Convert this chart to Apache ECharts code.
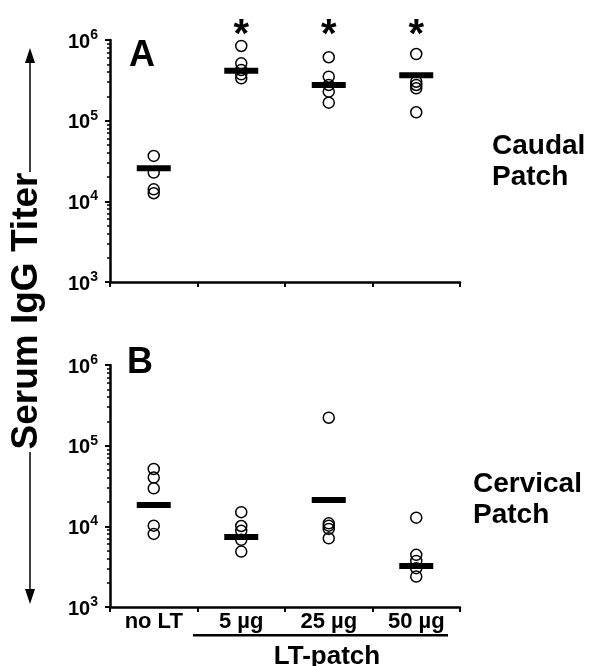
<!DOCTYPE html>
<html>
<head>
<meta charset="utf-8">
<script src="https://cdn.jsdelivr.net/npm/echarts@6/dist/echarts.min.js"></script>
<style>
  html, body { margin: 0; padding: 0; background: #fff; }
  #chart { width: 589px; height: 666px; }
</style>
</head>
<body>
<div id="chart"></div>
<script>
// groups on the x axis
const categories = ['no LT', '5 µg', '25 µg', '50 µg']

// panel A - caudal patch, individual titers per group
const caudalNoLT = [36600, 22700, 14100, 12600]
const caudal5 = [843000, 514000, 425000, 376000, 335000]
const caudal25 = [611000, 351000, 277000, 229000, 167000]
const caudal50 = [670000, 304000, 277000, 252000, 127000]
const caudalMeans = [25700, 417000, 277000, 366000]

// panel B - cervical patch
const cervicalNoLT = [51400, 40200, 29600, 10200, 8050]
const cervical5 = [15000, 10100, 8800, 6800, 4860]
const cervical25 = [222000, 10900, 10200, 9300, 7100]
const cervical50 = [12800, 4430, 3720, 3030, 2380]
const cervicalMeans = [18400, 7400, 21200, 3230]

// significance stars (panel A)
const starGroups = ['5 µg', '25 µg', '50 µg']
const starLevel = 1130000

const FONT = 'Liberation Sans, Arial, sans-serif'

function toPoints(groups) {
    const out = []
    groups.forEach((vals, i) => vals.forEach(v => out.push([categories[i], v])))
    return out
}

function xAxisFor(grid, showLabels) {
    return {
        type: 'category', gridIndex: grid, data: categories, boundaryGap: true,
        axisLine: { lineStyle: { color: '#000', width: 2.5 } },
        axisTick: { show: true, length: 5, lineStyle: { color: '#000', width: 2 } },
        axisLabel: { show: showLabels, color: '#000', fontFamily: FONT, fontWeight: 'bold', fontSize: 22, margin: 4 },
        splitLine: { show: false }
    }
}

function yAxisFor(grid) {
    return {
        type: 'log', logBase: 10, gridIndex: grid, min: 1000, max: 1000000,
        axisLine: { show: true, lineStyle: { color: '#000', width: 2.5 } },
        axisTick: { show: true, length: 5, lineStyle: { color: '#000', width: 2 } },
        minorTick: { show: true, splitNumber: 9, length: 3, lineStyle: { color: '#000', width: 1.5 } },
        splitLine: { show: false },
        axisLabel: {
            margin: 12, color: '#000',
            formatter: v => '{b|10}{s|' + Math.round(Math.log10(v)) + '}',
            rich: {
                b: { fontFamily: FONT, fontWeight: 'bold', fontSize: 20, color: '#000', verticalAlign: 'bottom', lineHeight: 24 },
                s: { fontFamily: FONT, fontWeight: 'bold', fontSize: 14, color: '#000', verticalAlign: 'top', lineHeight: 24 }
            }
        }
    }
}

function circles(grid, groups) {
    return {
        type: 'scatter', xAxisIndex: grid, yAxisIndex: grid,
        data: toPoints(groups), symbol: 'circle', symbolSize: 11,
        itemStyle: { color: 'rgba(0,0,0,0)', borderColor: '#000', borderWidth: 1.5, opacity: 1 },
        clip: false, silent: true
    }
}

function means(grid, vals) {
    return {
        type: 'scatter', xAxisIndex: grid, yAxisIndex: grid,
        data: vals.map((v, i) => [categories[i], v]), symbol: 'rect', symbolSize: [34, 6],
        itemStyle: { color: '#000', opacity: 1 }, clip: false, silent: true
    }
}

const chart = echarts.init(document.getElementById('chart'))
chart.setOption({
    animation: false,
    backgroundColor: '#fff',
    grid: [
        { left: 110, top: 40, width: 350, height: 242 },
        { left: 110, top: 365, width: 350, height: 242 }
    ],
    xAxis: [xAxisFor(0, false), xAxisFor(1, true)],
    yAxis: [yAxisFor(0), yAxisFor(1)],
    series: [
        circles(0, [caudalNoLT, caudal5, caudal25, caudal50]),
        means(0, caudalMeans),
        {
            type: 'scatter', xAxisIndex: 0, yAxisIndex: 0, clip: false, silent: true,
            data: starGroups.map(g => [g, starLevel]), symbolSize: 1,
            itemStyle: { color: 'rgba(0,0,0,0)', opacity: 1 },
            label: { show: true, position: 'inside', formatter: '*', color: '#000', fontFamily: FONT, fontWeight: 'bold', fontSize: 40 }
        },
        circles(1, [cervicalNoLT, cervical5, cervical25, cervical50]),
        means(1, cervicalMeans)
    ],
    graphic: [
        { type: 'text', x: 27, y: 311, rotation: Math.PI / 2,
          style: { text: 'Serum IgG Titer', font: 'bold 37px ' + FONT, fill: '#000', align: 'center', verticalAlign: 'middle' } },
        { type: 'line', shape: { x1: 30, y1: 60, x2: 30, y2: 172 }, style: { stroke: '#000', lineWidth: 1.5 } },
        { type: 'polygon', shape: { points: [[30, 48], [25, 63], [35, 63]] }, style: { fill: '#000' } },
        { type: 'line', shape: { x1: 30, y1: 452, x2: 30, y2: 592 }, style: { stroke: '#000', lineWidth: 1.5 } },
        { type: 'polygon', shape: { points: [[30, 604], [25, 589], [35, 589]] }, style: { fill: '#000' } },
        { type: 'text', x: 129, y: 38, style: { text: 'A', font: 'bold 36px ' + FONT, fill: '#000' } },
        { type: 'text', x: 127, y: 345, style: { text: 'B', font: 'bold 36px ' + FONT, fill: '#000' } },
        { type: 'text', x: 492, y: 131, style: { text: 'Caudal\nPatch', font: 'bold 28px ' + FONT, fill: '#000', lineHeight: 31 } },
        { type: 'text', x: 473, y: 469, style: { text: 'Cervical\nPatch', font: 'bold 28px ' + FONT, fill: '#000', lineHeight: 31 } },
        { type: 'rect', shape: { x: 193, y: 634, width: 255, height: 2.5 }, style: { fill: '#000' } },
        { type: 'text', x: 327, y: 644, style: { text: 'LT-patch', font: 'bold 26px ' + FONT, fill: '#000', align: 'center' } }
    ]
})
</script>
</body>
</html>
